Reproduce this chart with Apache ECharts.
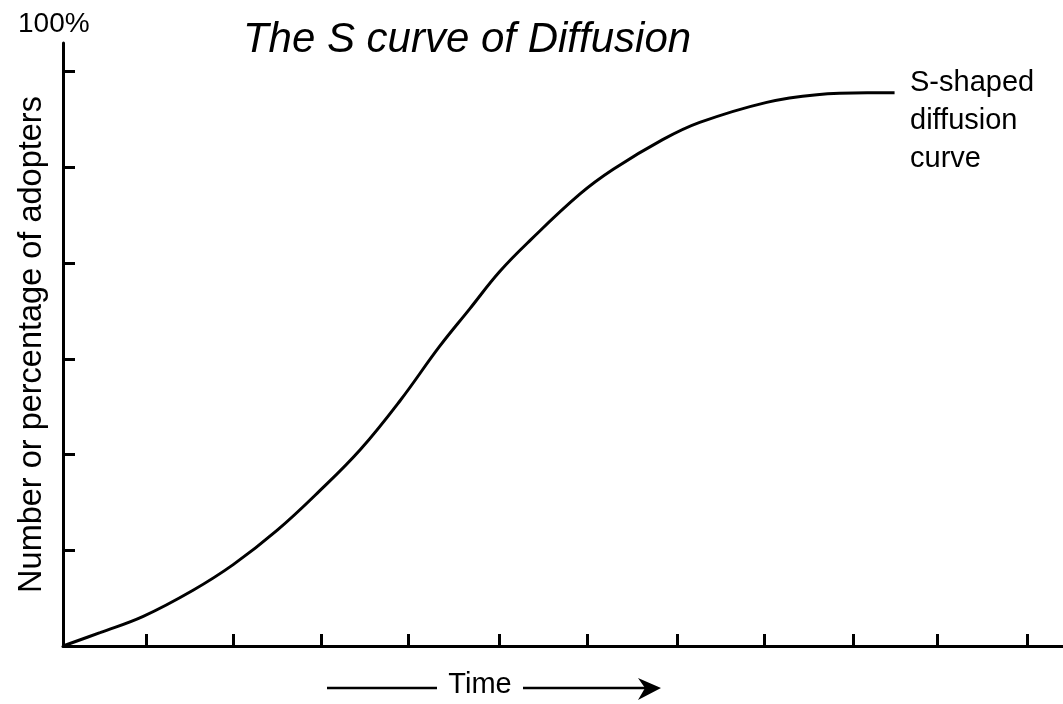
<!DOCTYPE html>
<html>
<head>
<meta charset="utf-8">
<script src="https://cdn.jsdelivr.net/npm/echarts@6/dist/echarts.min.js"></script>
<style>
html,body{margin:0;padding:0;background:#fff;}
#chart{width:1063px;height:704px;}
</style>
</head>
<body>
<div id="chart"></div>
<script>
// Time (arbitrary units) and cumulative adopters (arbitrary units, 6 tick steps)
const timeValues = [0, 0.42, 0.91, 1.47, 1.93, 2.43, 2.91, 3.37, 3.82, 4.27, 4.61, 4.95, 5.30, 5.86, 6.24, 6.80, 7.22, 7.98, 8.55, 9.12, 9.43];
const adopterValues = [0, 0.14, 0.31, 0.58, 0.85, 1.21, 1.62, 2.05, 2.56, 3.13, 3.52, 3.91, 4.24, 4.72, 4.98, 5.29, 5.47, 5.68, 5.76, 5.78, 5.78];
const xTickValues = [0.94, 1.93, 2.93, 3.92, 4.95, 5.95, 6.96, 7.95, 8.96, 9.91, 10.94];
const yTickValues = [1, 2, 3, 4, 5, 6];
const titleText = 'The S curve of Diffusion';
const yAxisName = 'Number or percentage of adopters';
const yTopLabel = '100%';
const xAxisName = 'Time';
const curveLabel = 'S-shaped\ndiffusion\ncurve';

const FONT = "'Liberation Sans', Arial, Helvetica, sans-serif";
const chart = echarts.init(document.getElementById('chart'), null, {renderer: 'canvas'});
const seriesData = timeValues.map((t, i) => [t, adopterValues[i]]);

chart.setOption({
  backgroundColor: '#ffffff',
  animation: false,
  title: {
    text: titleText,
    left: 462,
    top: 14,
    textAlign: 'center',
    textStyle: {fontFamily: FONT, fontSize: 42, fontStyle: 'italic', fontWeight: 'normal', color: '#000'}
  },
  grid: {left: 63, right: 0, top: 43, bottom: 56},
  xAxis: {
    type: 'value', min: 0, max: 11.34,
    axisLine: {lineStyle: {color: '#000', width: 3}},
    axisTick: {show: true, inside: true, length: 12, customValues: xTickValues, lineStyle: {color: '#000', width: 3}},
    axisLabel: {show: false},
    splitLine: {show: false},
    name: xAxisName,
    nameLocation: 'middle',
    nameGap: 24,
    nameTextStyle: {fontFamily: FONT, fontSize: 29, color: '#000', padding: [0, 166, 0, 0]}
  },
  yAxis: {
    type: 'value', min: 0, max: 6.3,
    axisLine: {show: true, lineStyle: {color: '#000', width: 3}},
    axisTick: {show: true, inside: true, length: 12, customValues: yTickValues, lineStyle: {color: '#000', width: 3}},
    axisLabel: {show: false},
    splitLine: {show: false},
    name: yAxisName,
    nameLocation: 'middle',
    nameGap: 14,
    nameTextStyle: {fontFamily: FONT, fontSize: 32.5, color: '#000'}
  },
  graphic: [
    {type: 'text', left: 18, top: 10, style: {text: yTopLabel, font: '28px ' + FONT, fill: '#000'}},
    {type: 'text', left: 910, top: 64, style: {text: curveLabel, font: '29px ' + FONT, fill: '#000', lineHeight: 38}},
    {type: 'line', shape: {x1: 327, y1: 688, x2: 437, y2: 688}, style: {stroke: '#000', lineWidth: 2.5}},
    {type: 'line', shape: {x1: 523, y1: 688, x2: 655, y2: 688}, style: {stroke: '#000', lineWidth: 2.5}},
    {type: 'polygon', shape: {points: [[638, 678], [661, 688], [638, 700], [645, 688]]}, style: {fill: '#000'}}
  ],
  series: [{
    type: 'line',
    data: seriesData,
    smooth: 0.4,
    showSymbol: false,
    lineStyle: {color: '#000', width: 3},
    silent: true
  }]
});
</script>
</body>
</html>
